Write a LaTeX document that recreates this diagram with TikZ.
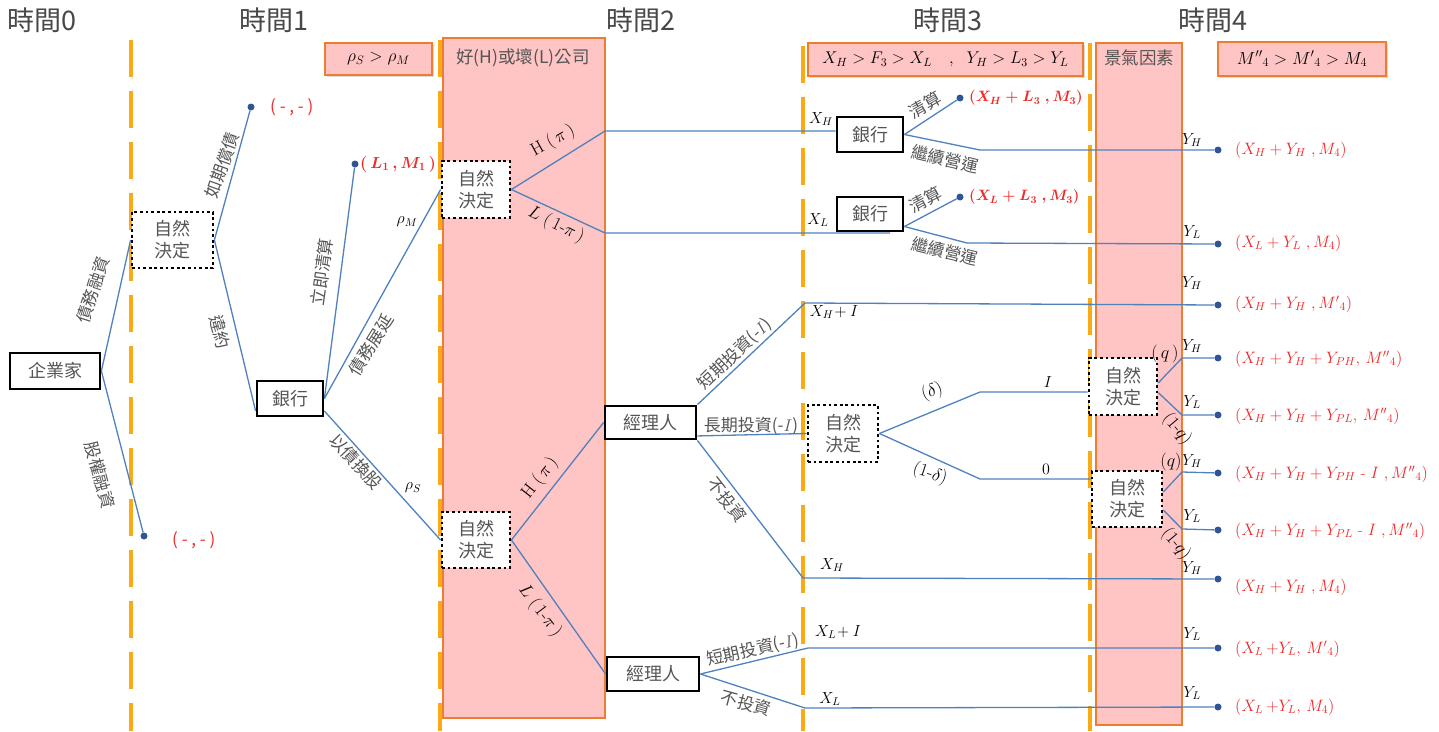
\documentclass[tikz,border=0pt]{standalone}
\usepackage{fix-cm}
\usepackage{amsmath}
\usepackage{fontspec}
\newfontfamily\cjk{Noto Sans CJK TC}
\usetikzlibrary{shadows,calc}
\definecolor{dashorange}{RGB}{250,170,20}
\definecolor{boxorange}{RGB}{237,125,49}
\definecolor{pinkfill}{RGB}{255,196,196}
\definecolor{lineblue}{RGB}{79,129,189}
\definecolor{dotblue}{RGB}{47,85,151}
\definecolor{textgray}{RGB}{85,85,85}
\definecolor{payred}{RGB}{240,40,40}
\pgfdeclarelayer{l0}\pgfdeclarelayer{l1}\pgfdeclarelayer{l2}
\pgfsetlayers{l0,l1,l2,main}
\begin{document}
\begin{tikzpicture}[x=1pt,y=-1pt,
  tl/.style={draw=lineblue,line width=1.3pt},
  tdash/.style={draw=dashorange,line width=3.8pt,dash pattern=on 37pt off 14pt},
  pinkbox/.style={fill=pinkfill,draw=boxorange,line width=1.3pt,inner sep=0pt},
  shad/.style={drop shadow={shadow xshift=2pt,shadow yshift=-2pt,opacity=0.3}},
  solidbox/.style={draw=black,line width=2.8pt,fill=white,inner sep=0pt,font=\cjk\fontsize{18}{18}\selectfont,text=textgray},
  natbox/.style={draw=black,line width=2.8pt,dash pattern=on 2.8pt off 2.8pt,fill=white,inner sep=0pt,align=center,font=\cjk\fontsize{18}{22}\selectfont,text=textgray},
  enddot/.style={circle,fill=dotblue,inner sep=0pt,minimum size=7pt},
  pay/.style={anchor=west,text=payred,font=\fontsize{16.5}{16.5}\selectfont,inner sep=0pt},
  clab/.style={font=\cjk\fontsize{17}{17}\selectfont,text=textgray,inner sep=0pt},
  mlab/.style={font=\fontsize{16}{16}\selectfont,inner sep=0pt},
  plab/.style={font=\fontsize{18}{18}\selectfont,inner sep=0pt},
  ttl/.style={font=\cjk\fontsize{27}{27}\selectfont,text=textgray!85!black}
]
\useasboundingbox (0,0) rectangle (1439,731);

% time titles
\node[ttl] (t0) at (42,20) {時間0};
\node[ttl] (t1) at (274,20) {時間1};
\node[ttl] (t2) at (641,20) {時間2};
\node[ttl] (t3) at (948,20) {時間3};
\node[ttl] (t4) at (1213,20) {時間4};

% dashed time lines
\begin{pgfonlayer}{l0}
\draw[tdash] (131,40) -- (131,731);
\draw[tdash] (440,40) -- (440,731);
\draw[tdash] (803,46) -- (803,731);
\draw[tdash] (1090,43) -- (1090,731);
\end{pgfonlayer}

% pink boxes
\begin{pgfonlayer}{l1}
\node[pinkbox,shad,minimum width=107pt,minimum height=32pt,font=\fontsize{17.5}{17.5}\selectfont] (rho) at (378.5,59) {$\rho_S > \rho_M$};
\node[pinkbox,minimum width=162pt,minimum height=680pt] (firm) at (524,378) {};
\node[pinkbox,shad,minimum width=275pt,minimum height=33pt,font=\fontsize{17}{17}\selectfont] (xbox) at (945.5,59.5) {$X_H > F_3 > X_L\quad,\ \ Y_H > L_3 > Y_L$};
\node[pinkbox,minimum width=86pt,minimum height=682pt] (clim) at (1139,384) {};
\node[pinkbox,shad,minimum width=168pt,minimum height=34pt,font=\fontsize{17.5}{17.5}\selectfont] (mbox) at (1302,59) {${M''}_4 > {M'}_4 > M_4$};
\end{pgfonlayer}
\node[clab,font=\cjk\fontsize{17.5}{17.5}\selectfont] (firmt) at (523,58) {好(H)或壞(L)公司};
\node[clab,font=\cjk\fontsize{17.5}{17.5}\selectfont] (climt) at (1139,58) {景氣因素};

% decision nodes
\node[solidbox,minimum width=90pt,minimum height=36pt] (ent) at (55,371) {企業家};
\node[natbox,minimum width=81pt,minimum height=56pt] (n1) at (172.5,240) {自然\\決定};
\node[solidbox,minimum width=66pt,minimum height=35pt] (bank1) at (290,398.5) {銀行};
\node[natbox,minimum width=68pt,minimum height=57pt] (n2t) at (476,189.5) {自然\\決定};
\node[natbox,minimum width=68pt,minimum height=56pt] (n2b) at (476,540) {自然\\決定};
\node[solidbox,minimum width=91pt,minimum height=33pt] (mgr1) at (650.5,422.5) {經理人};
\node[solidbox,minimum width=92pt,minimum height=34pt] (mgr2) at (653,674) {經理人};
\node[solidbox,minimum width=66pt,minimum height=35pt] (bank3t) at (870,134.5) {銀行};
\node[solidbox,minimum width=66pt,minimum height=34pt] (bank3b) at (870,214) {銀行};
\node[natbox,minimum width=70pt,minimum height=57pt] (n3) at (843,433.5) {自然\\決定};
\node[natbox,minimum width=68pt,minimum height=57pt] (n4t) at (1123,386.5) {自然\\決定};
\node[natbox,minimum width=70pt,minimum height=56pt] (n4b) at (1127,499) {自然\\決定};

% end dots
\node[enddot] (dA) at (251,107) {};
\node[enddot] (dB) at (144,536) {};
\node[enddot] (dC) at (355,164) {};
\node[enddot] (dD) at (960,98) {};
\node[enddot] (dE) at (960,197) {};
\foreach \n/\y in {1/150,2/244,3/305,4/358,5/415,6/473,7/530,8/579,9/648,10/707}
  \node[enddot] (r\n) at (1218,\y) {};

% bend points
\coordinate (b1) at (605,131);
\coordinate (b2) at (605,233);
\coordinate (b2e) at (890,233);
\coordinate (b3) at (805,303);
\coordinate (b4) at (803,578);
\coordinate (b5) at (808,648);
\coordinate (b6) at (805,708);
\coordinate (b7) at (980,150);
\coordinate (b8) at (967,243);
\coordinate (b9) at (980,392);
\coordinate (b10) at (980,479);
\coordinate (b11) at (1182,358);
\coordinate (b12) at (1182,415);
\coordinate (b13) at (1182,472);
\coordinate (b14) at (1182,529);

% connectors
\begin{pgfonlayer}{l2}
\draw[tl] (ent.east) -- (n1.west);
\draw[tl] (ent.east) -- (dB);
\draw[tl] (n1.east) -- (dA);
\draw[tl] (n1.east) -- (bank1.200);
\draw[tl] (bank1.east) -- (dC);
\draw[tl] (bank1.east) -- (n2t.west);
\draw[tl] (bank1.-20) -- (n2b.west);
\draw[tl] (n2t.east) -- (b1) -- (b1 -| bank3t.west);
\draw[tl] (n2t.east) -- (b2) -- (b2e);
\draw[tl] (n2b.east) -- (mgr1.west);
\draw[tl] (n2b.east) -- (mgr2.west);
\draw[tl] (mgr1.north east) -- (b3) -- (r3);
\draw[tl] (mgr1.-16) -- (n3.west);
\draw[tl] (mgr1.south east) -- (b4) -- (r8);
\draw[tl] (mgr2.east) -- (b5) -- (r9);
\draw[tl] (mgr2.east) -- (b6) -- (r10);
\draw[tl] (bank3t.east) -- (dD);
\draw[tl] (bank3t.east) -- (b7) -- (r1);
\draw[tl] (bank3b.-20) -- (dE);
\draw[tl] (bank3b.-20) -- (b8) -- (r2);
\draw[tl] (n3.east) -- (b9) -- (b9 -| n4t.west);
\draw[tl] (n3.east) -- (b10) -- (b10 -| n4b.west);
\draw[tl] (n4t.6) -- (b11) -- (r4);
\draw[tl] (n4t.-10) -- (b12) -- (r5);
\draw[tl] (n4b.11) -- (b13) -- (r6);
\draw[tl] (n4b.-17) -- (b14) -- (r7);
\end{pgfonlayer}

% branch labels (CJK)
\node[clab,rotate=72] (l1) at (93,290) {債務融資};
\node[clab,rotate=-75] (l2) at (100,475) {股權融資};
\node[clab,rotate=70] (l3) at (222,165) {如期償債};
\node[clab,rotate=-75] (l4) at (220,332) {違約};
\node[clab,rotate=82] (l5) at (322,272) {立即清算};
\node[clab,rotate=58] (l6) at (371,345) {債務展延};
\node[clab,rotate=-47] (l7) at (356,462) {以債換股};
\node[clab,rotate=44] (l8) at (735,354) {短期投資(-$I$)};
\node[clab] (l9) at (751,426) {長期投資(-$I$)};
\node[clab,rotate=-52] (l10) at (727,500) {不投資};
\node[clab,rotate=13] (l11) at (753,650) {短期投資(-$I$)};
\node[clab,rotate=-15] (l12) at (746,703) {不投資};
\node[clab,rotate=30] (l13) at (925,105) {清算};
\node[clab,rotate=-13] (l14) at (945,159) {繼續營運};
\node[clab,rotate=28] (l15) at (925,200) {清算};
\node[clab,rotate=-14] (l16) at (945,251) {繼續營運};

% math labels
\node[mlab] (m1) at (407,222) {$\rho_M$};
\node[mlab] (m2) at (413,488) {$\rho_S$};
\node[plab,rotate=29] (m3) at (553,141) {$\mathrm{H}\;(\,\pi\,)$};
\node[plab,rotate=-26] (m4) at (556,225) {$L\;(\,1\mbox{-}\pi\,)$};
\node[plab,rotate=52] (m5) at (540,478) {$\mathrm{H}\;(\,\pi\,)$};
\node[plab,rotate=-53] (m6) at (540,611) {$L\;(\,1\mbox{-}\pi\,)$};
\node[mlab] (m7) at (821,119) {$X_H$};
\node[mlab] (m8) at (818,220) {$X_L$};
\node[mlab] (m9) at (834,312) {$X_H\!+ I$};
\node[mlab] (m10) at (832,565) {$X_H$};
\node[mlab] (m11) at (838,632) {$X_L\!+ I$};
\node[mlab] (m12) at (830,699) {$X_L$};
\node[plab,rotate=20] (m13) at (932,392) {$(\delta)$};
\node[mlab] (m14) at (1048,382) {$I$};
\node[plab,rotate=-18] (m15) at (930,474) {$(1\mbox{-}\delta)$};
\node[mlab] (m16) at (1046,469) {$0$};
\node[plab] (m17) at (1165,354) {$(\,q\,)$};
\node[plab,rotate=-50] (m18) at (1177,429) {$(1\mbox{-}q)$};
\node[plab] (m19) at (1171,462) {$(q)$};
\node[plab,rotate=-50] (m20) at (1176,544) {$(1\mbox{-}q)$};
\foreach \y/\t in {140/H,232/L,283/H,346/H,402/L,461/H,516/L,568/H,634/L,693/L}
  \node[mlab] at (1192,\y) {$Y_\t$};

% payoffs
\node[pay,font=\cjk\fontsize{17}{17}\selectfont] (pA) at (270,107) {( - , - )};
\node[pay,font=\cjk\fontsize{17}{17}\selectfont] (pB) at (172,540) {( - , - )};
\node[pay,font=\fontsize{16}{16}\selectfont] (pC) at (360,164) {$\boldsymbol{(\,L_1\,,M_1\,)}$};
\node[pay,font=\fontsize{15}{15}\selectfont] (pD) at (969,98) {$\boldsymbol{(X_H+L_3\ ,M_3)}$};
\node[pay,font=\fontsize{15}{15}\selectfont] (pE) at (969,197) {$\boldsymbol{(X_L+L_3\ ,M_3)}$};
\node[pay] (p1) at (1235,150) {$(X_H+Y_H\ ,M_4)$};
\node[pay] (p2) at (1235,243) {$(X_L+Y_L\ ,M_4)$};
\node[pay] (p3) at (1235,304) {$(X_H+Y_H\ ,{M'}_4)$};
\node[pay] (p4) at (1235,359) {$(X_H+Y_H+Y_{PH},\,{M''}_4)$};
\node[pay] (p5) at (1235,416) {$(X_H+Y_H+Y_{PL},\,{M''}_4)$};
\node[pay] (p6) at (1235,474) {$(X_H+Y_H+Y_{PH}\mbox{ - }I\ ,{M''}_4)$};
\node[pay] (p7) at (1235,531) {$(X_H+Y_H+Y_{PL}\mbox{ - }I\ ,{M''}_4)$};
\node[pay] (p8) at (1235,587) {$(X_H+Y_H\ ,M_4)$};
\node[pay] (p9) at (1235,649) {$(X_L\,{+}Y_L,\,{M'}_4)$};
\node[pay] (p10) at (1235,707) {$(X_L\,{+}Y_L,\,M_4)$};
\end{tikzpicture}
\end{document}
